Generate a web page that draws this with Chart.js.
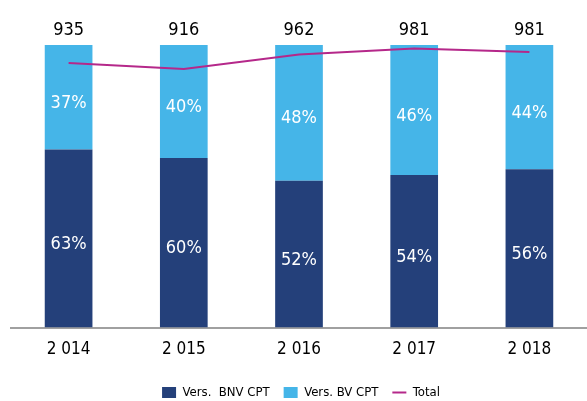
<!DOCTYPE html>
<html>
<head>
<meta charset="utf-8">
<script src="https://cdn.jsdelivr.net/npm/chart.js@4"></script>
<style>
  body { margin: 0; background: #fff; }
  #wrap { width: 587px; height: 401px; }
</style>
</head>
<body>
<div id="wrap"><canvas id="chart" width="587" height="401"></canvas></div>
<script>
// Data
const years = ['2 014', '2 015', '2 016', '2 017', '2 018'];
const bnvShare = [63, 60, 52, 54, 56];   // Vers. BNV CPT (%)
const bvShare = [37, 40, 48, 46, 44];    // Vers. BV CPT (%)
const totalLabels = [935, 916, 962, 981, 981];
const totalLine = [935, 916, 962, 981, 970]; // line position as drawn

const FONT = '"Liberation Sans Narrow", "DejaVu Sans Condensed", sans-serif';

// Draw the % labels inside segments and the totals above bars
const labelPlugin = {
    id: 'labels',
    afterDatasetsDraw(chart) {
        const ctx = chart.ctx;
        ctx.save();
        ctx.textAlign = 'center';
        ctx.textBaseline = 'middle';
        ctx.font = '18px ' + FONT;
        ctx.fillStyle = '#fff';
        [0, 1].forEach(di => {
            const meta = chart.getDatasetMeta(di);
            meta.data.forEach((bar, i) => {
                const v = chart.data.datasets[di].data[i];
                const mid = (bar.y + bar.base) / 2 + 6;
                ctx.fillText(v + '%', bar.x, mid);
            });
        });
        ctx.fillStyle = '#000';
        const top = chart.getDatasetMeta(1);
        top.data.forEach((bar, i) => {
            ctx.fillText(totalLabels[i], bar.x, bar.y - 15);
        });
        ctx.restore();
    }
};

new Chart(document.getElementById('chart'), {
    type: 'bar',
    data: {
        labels: years,
        datasets: [{
            label: 'Vers.  BNV CPT',
            data: bnvShare,
            backgroundColor: '#24407A',
            pointStyle: 'rect',
            stack: 's',
            order: 1
        }, {
            label: 'Vers. BV CPT',
            data: bvShare,
            backgroundColor: '#45B5E8',
            pointStyle: 'rect',
            stack: 's',
            order: 1
        }, {
            type: 'line',
            label: 'Total',
            data: totalLine,
            borderColor: '#B5288A',
            backgroundColor: '#B5288A',
            borderWidth: 2,
            pointRadius: 0,
            pointStyle: 'line',
            tension: 0,
            yAxisID: 'y2',
            order: 0
        }]
    },
    options: {
        responsive: false,
        animation: false,
        layout: { padding: { top: 45, left: 11, right: -4, bottom: -8 } },
        datasets: {
            bar: { categoryPercentage: 1, barPercentage: 0.414 }
        },
        plugins: {
            tooltip: { enabled: false },
            legend: {
                position: 'bottom',
                labels: {
                    usePointStyle: true,
                    boxWidth: 11,
                    boxHeight: 11,
                    pointStyleWidth: 14,
                    padding: 14,
                    color: '#000',
                    font: { family: FONT, size: 13 },
                    sort: (a, b) => a.datasetIndex - b.datasetIndex
                }
            }
        },
        scales: {
            x: {
                stacked: true,
                grid: { display: false },
                border: { display: true, color: '#A0A0A0', width: 2 },
                ticks: { color: '#000', font: { family: FONT, size: 17 }, padding: 4 },
                afterFit: (scale) => { scale.height += 8; }
            },
            y: {
                stacked: true,
                display: false,
                min: 0,
                max: 100
            },
            y2: {
                display: false,
                min: 96,
                max: 992
            }
        }
    },
    plugins: [labelPlugin]
});
</script>
</body>
</html>
